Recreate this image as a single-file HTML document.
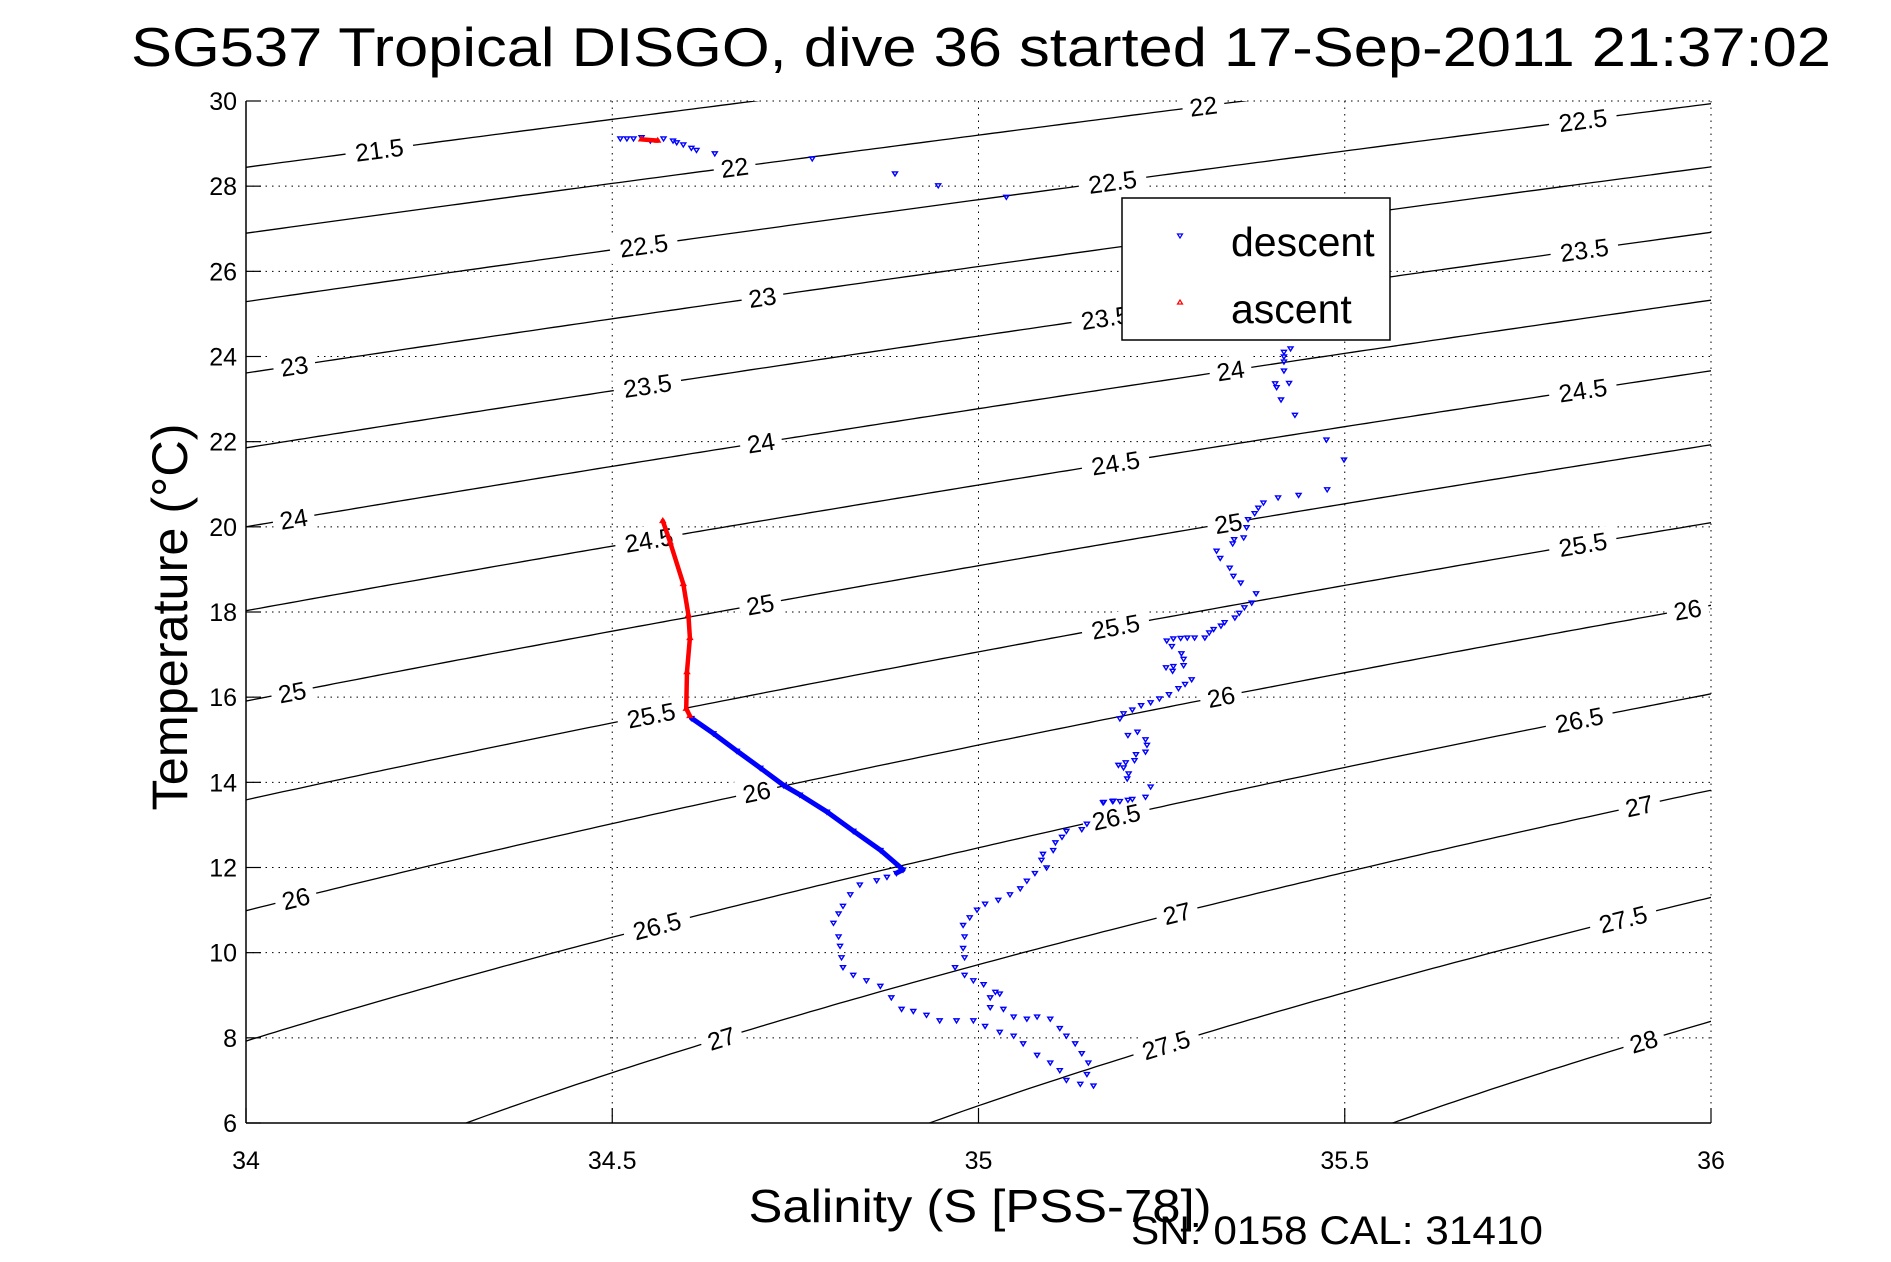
<!DOCTYPE html>
<html><head><meta charset="utf-8"><style>
html,body{margin:0;padding:0;background:#fff;overflow:hidden;width:1891px;height:1262px;}
svg{display:block;font-family:"Liberation Sans",sans-serif;}
</style></head><body>
<svg id="chart" width="1891" height="1262" viewBox="0 0 1891 1262" xmlns="http://www.w3.org/2000/svg">
<rect x="0" y="0" width="1891" height="1262" fill="#fff"/>
<defs><clipPath id="pc"><rect x="246" y="101" width="1465" height="1022"/></clipPath></defs>
<text x="981" y="66" font-size="55" text-anchor="middle" textLength="1700" lengthAdjust="spacingAndGlyphs">SG537 Tropical DISGO, dive 36 started 17-Sep-2011 21:37:02</text>
<g id="grid"></g>
<g id="contours" clip-path="url(#pc)"></g>
<g id="clabels"></g>
<g id="series" clip-path="url(#pc)"></g>
<g id="axes"></g>
<text x="980" y="1222" font-size="46" text-anchor="middle" textLength="463" lengthAdjust="spacingAndGlyphs">Salinity (S [PSS-78])</text>
<text x="1131" y="1244" font-size="40" textLength="412" lengthAdjust="spacingAndGlyphs">SN: 0158  CAL: 31410</text>
<text transform="translate(187,617) rotate(-90)" font-size="50" text-anchor="middle" textLength="387" lengthAdjust="spacingAndGlyphs">Temperature (°C)</text>
<g>
<rect x="1122" y="198" width="268" height="142" fill="#fff" stroke="#000" stroke-width="1.5"/>
<path d="M1177.5,234 L1182.5,234 L1180,238 Z" fill="none" stroke="#00f" stroke-width="1.2"/>
<text x="1231" y="256" font-size="41">descent</text>
<path d="M1177.5,304 L1182.5,304 L1180,300 Z" fill="none" stroke="#f00" stroke-width="1.2"/>
<text x="1231" y="323" font-size="41">ascent</text>
</g>
</svg>
<script>
const xTicks=[34,34.5,35,35.5,36];
const xTickLabels=["34","34.5","35","35.5","36"];
const yTicks=[6,8,10,12,14,16,18,20,22,24,26,28,30];
const yTickLabels=["6","8","10","12","14","16","18","20","22","24","26","28","30"];
const sigmaLevels=[21.5,22,22.5,23,23.5,24,24.5,25,25.5,26,26.5,27,27.5,28];
const labelLevels=[21.5,22,22,22.5,22.5,22.5,23,23,23.5,23.5,23.5,24,24,24,24.5,24.5,24.5,25,25,25,25.5,25.5,25.5,26,26,26,26,26.5,26.5,26.5,27,27,27,27.5,27.5,28];
const labelSal=[34.182,35.307,34.667,35.825,35.183,34.543,34.705,34.066,35.173,35.827,34.548,35.344,34.703,34.065,35.825,35.187,34.550,35.341,34.702,34.063,35.825,35.187,34.553,35.968,35.331,34.697,34.068,35.820,35.188,34.561,35.902,35.271,34.649,35.880,35.256,35.908];
const descentS=[34.511,34.520,34.529,34.540,34.552,34.570,34.583,34.588,34.597,34.608,34.615,34.640,34.773,34.886,34.945,35.038,
35.426,35.417,35.417,35.417,35.417,35.424,35.405,35.407,35.413,35.432,35.475,35.499,35.476,35.437,35.409,35.389,35.382,35.377,35.368,35.366,35.362,35.349,35.347,35.325,35.330,35.343,35.348,35.358,35.379,35.373,35.363,35.356,35.350,35.336,35.331,35.321,35.315,35.309,35.295,35.285,35.276,35.266,35.257,35.264,35.277,35.280,35.280,35.266,35.256,35.265,35.291,35.282,35.273,35.260,35.247,35.235,35.222,35.210,35.198,35.193,35.204,35.217,35.228,35.230,35.228,35.215,35.213,35.201,35.191,35.198,35.205,35.203,35.235,35.228,35.210,35.204,35.193,35.183,35.171,
35.184,35.170,35.148,35.141,35.120,35.114,35.105,35.102,35.088,35.086,35.093,35.077,35.066,35.057,35.043,35.027,35.009,34.998,34.988,34.979,34.981,34.979,34.981,34.968,34.981,34.993,35.007,35.023,35.029,35.016,35.016,35.034,35.048,35.066,35.080,35.098,35.111,35.120,35.132,35.141,35.150,35.148,35.157,35.139,35.120,35.111,35.098,35.080,35.061,35.048,35.029,35.009,34.993,34.970,34.947,34.929,34.911,34.895,34.881,34.866,34.847,34.829,34.815,34.813,34.811,34.809,34.802,34.809,34.815,34.825,34.838,34.861,34.875,34.888,34.897,
34.866,34.829,34.793,34.756,34.734,34.702,34.670,34.638,34.608];
const descentT=[29.12,29.12,29.12,29.15,29.07,29.12,29.07,29.03,28.98,28.90,28.85,28.77,28.65,28.30,28.02,27.75,
24.19,24.11,24.00,23.88,23.67,23.38,23.37,23.28,22.99,22.63,22.05,21.58,20.88,20.75,20.69,20.57,20.45,20.32,20.18,19.99,19.75,19.71,19.61,19.44,19.27,19.04,18.85,18.69,18.44,18.22,18.11,17.98,17.87,17.76,17.68,17.60,17.52,17.40,17.40,17.40,17.39,17.38,17.33,17.20,17.03,16.90,16.75,16.73,16.70,16.62,16.42,16.31,16.21,16.07,15.97,15.88,15.81,15.71,15.62,15.50,15.11,15.19,15.01,14.88,14.72,14.66,14.52,14.47,14.41,14.35,14.21,14.09,13.90,13.66,13.61,13.59,13.56,13.56,13.54,
13.57,13.53,13.03,12.90,12.86,12.72,12.59,12.41,12.32,12.18,12.00,11.87,11.69,11.51,11.37,11.24,11.15,11.01,10.83,10.65,10.38,10.11,9.89,9.66,9.48,9.35,9.26,9.08,9.04,8.95,8.72,8.68,8.50,8.45,8.50,8.45,8.23,8.05,7.87,7.64,7.42,7.15,6.88,6.92,7.01,7.24,7.42,7.60,7.87,8.05,8.14,8.28,8.41,8.41,8.41,8.54,8.63,8.68,8.95,9.22,9.35,9.48,9.66,9.89,10.16,10.38,10.70,10.92,11.10,11.37,11.60,11.70,11.78,11.87,11.95,
12.41,12.86,13.31,13.71,13.93,14.34,14.74,15.15,15.51];
// number of trailing descent samples recorded densely (rendered as a continuous thick trace)
const descentDenseCount=10;
const ascentS=[34.540,34.562,34.569,34.579,34.597,34.604,34.606,34.602,34.601,34.606];
const ascentT=[29.10,29.07,20.14,19.64,18.66,17.93,17.39,16.59,15.73,15.56];

const X0=246,X1=1711,Y0=1123,Y1=101;
const sx=s=>X0+(s-34)/2*(X1-X0);
const ty=t=>Y0-(t-6)/24*(Y0-Y1);
const NS='http://www.w3.org/2000/svg';
function mk(tag,attrs,parent){const e=document.createElementNS(NS,tag);for(const k in attrs)e.setAttribute(k,attrs[k]);parent.appendChild(e);return e;}
function sigma(S,T){
 const rw=999.842594+6.793952e-2*T-9.095290e-3*T*T+1.001685e-4*T**3-1.120083e-6*T**4+6.536332e-9*T**5;
 const A=0.824493-4.0899e-3*T+7.6438e-5*T*T-8.2467e-7*T**3+5.3875e-9*T**4;
 const B=-5.72466e-3+1.0227e-4*T-1.6546e-6*T*T;
 return rw+A*S+B*Math.pow(S,1.5)+4.8314e-4*S*S-1000;
}
function solveT(S,lev){let lo=-5,hi=40;for(let i=0;i<60;i++){const m=(lo+hi)/2;if(sigma(S,m)>lev)lo=m;else hi=m;}return (lo+hi)/2;}

const grid=document.getElementById('grid');
xTicks.forEach((s,i)=>{
 if(i>0){const l=mk('line',{x1:sx(s),x2:sx(s),y1:Y1,y2:Y0,stroke:'#000','stroke-width':1,'stroke-dasharray':'1.5 5'},grid);
 
 }
});
yTicks.forEach((t,i)=>{
 if(i>0){const l=mk('line',{x1:X0,x2:X1,y1:ty(t),y2:ty(t),stroke:'#000','stroke-width':1,'stroke-dasharray':'1.5 5'},grid);
 
 }
});

const cg=document.getElementById('contours');
sigmaLevels.forEach(lev=>{
 let d='';
 for(let s=34;s<=36.0001;s+=0.01){const t=solveT(s,lev);d+=(d?'L':'M')+sx(s).toFixed(1)+','+ty(t).toFixed(1);}
 const p=mk('path',{d:d,fill:'none',stroke:'#000','stroke-width':1.3},cg);
 
 
});
const lg=document.getElementById('clabels');
labelLevels.forEach((lev,i)=>{
 const s=labelSal[i];const t=solveT(s,lev);
 const x=sx(s),y=ty(t);
 const ang=Math.atan2(ty(solveT(s+0.01,lev))-y,sx(s+0.01)-x)*180/Math.PI;
 const g=mk('g',{transform:`translate(${x.toFixed(1)},${y.toFixed(1)}) rotate(${ang.toFixed(2)})`},lg);
 
 
 const txt=String(lev);
 const w=txt.length*13+16;
 mk('rect',{x:-w/2,y:-14,width:w,height:28,fill:'#fff'},g);
 const tx=mk('text',{x:0,y:9,'font-size':25,'text-anchor':'middle'},g);
 tx.textContent=txt;
});

const sg=document.getElementById('series');
function drawSeries(S,T,col,down,name,fromIdx,th,lw){
 for(let i=Math.max(1,fromIdx);i<S.length;i++){
  const x1=sx(S[i-1]),y1=ty(T[i-1]),x2=sx(S[i]),y2=ty(T[i]);
  if(Math.hypot(x2-x1,y2-y1)<th){const l=mk('line',{x1:x1,y1:y1,x2:x2,y2:y2,stroke:col,'stroke-width':lw,'stroke-linecap':'round'},sg);
  
  }
 }
 for(let i=0;i<S.length;i++){
  const x=sx(S[i]),y=ty(T[i]);
  const d=down?`M${x-2.5},${y-1.5} L${x+2.5},${y-1.5} L${x},${y+2.5} Z`:`M${x-2.5},${y+1.5} L${x+2.5},${y+1.5} L${x},${y-2.5} Z`;
  const p=mk('path',{d:d,fill:'none',stroke:col,'stroke-width':1.4},sg);
  
  
 }
}
drawSeries(descentS,descentT,'#00f',true,'descent',descentS.length-descentDenseCount,60,5);
drawSeries(ascentS,ascentT,'#f00',false,'ascent',0,60,4.5);

const ax=document.getElementById('axes');
const a1=mk('line',{x1:X0,y1:Y1,x2:X0,y2:Y0,stroke:'#000','stroke-width':1.5},ax);


const a2=mk('line',{x1:X0,y1:Y0,x2:X1,y2:Y0,stroke:'#000','stroke-width':1.5},ax);


xTicks.forEach((s,i)=>{
 const l=mk('line',{x1:sx(s),x2:sx(s),y1:Y0,y2:Y0-15,stroke:'#000','stroke-width':1.2},ax);
 
 
 const t=mk('text',{x:sx(s),y:1169,'font-size':25,'text-anchor':'middle'},ax);
 
 
 t.textContent=xTickLabels[i];
});
yTicks.forEach((v,i)=>{
 const l=mk('line',{x1:X0,x2:X0+15,y1:ty(v),y2:ty(v),stroke:'#000','stroke-width':1.2},ax);
 
 
 const t=mk('text',{x:237,y:ty(v)+9,'font-size':25,'text-anchor':'end'},ax);
 
 
 t.textContent=yTickLabels[i];
});
</script>
</body></html>
